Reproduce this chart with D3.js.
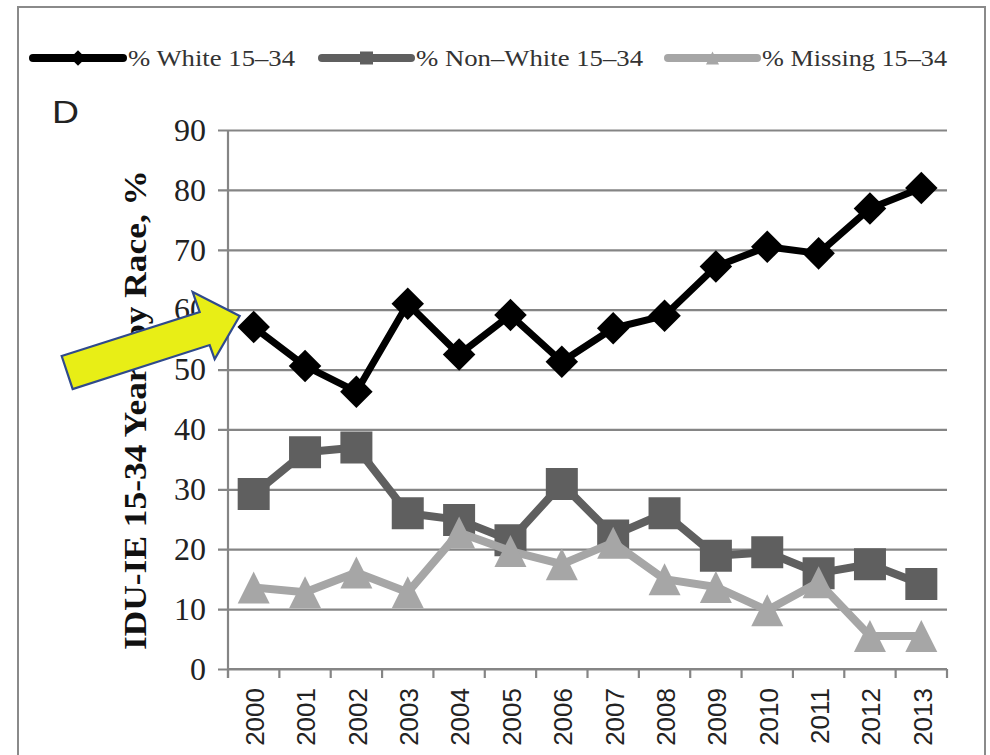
<!DOCTYPE html>
<html>
<head>
<meta charset="utf-8">
<script src="https://cdn.jsdelivr.net/npm/d3@7/dist/d3.min.js"></script>
<style>
  html, body { margin: 0; padding: 0; background: #fff; }
  svg { display: block; }
</style>
</head>
<body>
<svg id="chart" width="990" height="755"></svg>
<script>
// Years on the x axis
const years = ["2000","2001","2002","2003","2004","2005","2006","2007","2008","2009","2010","2011","2012","2013"];
// Share of IDU-IE aged 15-34 by race (%)
const whiteVals    = [57.1, 50.6, 46.3, 61.0, 52.5, 59.1, 51.3, 56.9, 59.0, 67.2, 70.5, 69.4, 76.9, 80.3];
const nonWhiteVals = [29.2, 36.2, 37.0, 26.0, 24.9, 21.5, 30.9, 22.3, 26.0, 18.9, 19.5, 16.0, 17.5, 14.2];
const missingVals  = [13.6, 12.8, 16.1, 12.8, 22.8, 19.7, 17.5, 21.1, 15.0, 13.7, 9.8, 14.5, 5.5, 5.5];
const yTicks = [0, 10, 20, 30, 40, 50, 60, 70, 80, 90];
const seriesNames = ["% White 15\u201334", "% Non\u2013White 15\u201334", "% Missing 15\u201334"];

const svg = d3.select("#chart");

// frame around the panel
svg.append("rect")
  .attr("x", 18).attr("y", 7).attr("width", 967).attr("height", 760)
  .attr("fill", "none").attr("stroke", "#8a8a8a").attr("stroke-width", 2);

const plotLeft = 228, plotRight = 947, plotTop = 130, plotBottom = 669;

const x = d3.scaleBand().domain(years).range([plotLeft, plotRight]).padding(0);
const y = d3.scaleLinear().domain([0, 90]).range([plotBottom, plotTop]);

const serif = "'Liberation Serif', 'Times New Roman', serif";
const sans = "'Liberation Sans', Arial, sans-serif";

// horizontal gridlines + y tick labels
const yAxis = svg.append("g")
  .attr("transform", `translate(${plotLeft - 10},0)`)
  .call(d3.axisLeft(y).tickValues(yTicks).tickSize(-(plotRight - plotLeft + 10)).tickPadding(12));
yAxis.select(".domain").remove();
yAxis.selectAll(".tick line").attr("stroke", "#858585").attr("stroke-width", 2.2);
yAxis.selectAll(".tick text")
  .attr("font-family", serif).attr("font-size", 32).attr("fill", "#222");

// vertical axis line
svg.append("line")
  .attr("x1", plotLeft).attr("x2", plotLeft).attr("y1", plotTop).attr("y2", plotBottom + 9)
  .attr("stroke", "#858585").attr("stroke-width", 2.2);

// x axis with ticks between categories
const xAxisG = svg.append("g");
xAxisG.append("line")
  .attr("x1", plotLeft).attr("x2", plotRight).attr("y1", plotBottom).attr("y2", plotBottom)
  .attr("stroke", "#858585").attr("stroke-width", 2.2);
const boundaries = years.map(d => x(d)).concat([x(years[years.length - 1]) + x.bandwidth()]);
xAxisG.selectAll("line.tk").data(boundaries).enter().append("line")
  .attr("class", "tk")
  .attr("x1", d => d).attr("x2", d => d)
  .attr("y1", plotBottom).attr("y2", plotBottom + 9)
  .attr("stroke", "#858585").attr("stroke-width", 2.2);
xAxisG.selectAll("text").data(years).enter().append("text")
  .attr("transform", d => `translate(${x(d) + x.bandwidth() / 2 + 1},688) rotate(-90)`)
  .attr("text-anchor", "end")
  .attr("dy", "0.36em")
  .attr("font-family", sans).attr("font-size", 26).attr("fill", "#222")
  .text(d => d);

// y axis title
svg.append("text")
  .attr("transform", "translate(146,410) rotate(-90)")
  .attr("text-anchor", "middle")
  .attr("font-family", serif).attr("font-weight", "bold").attr("font-size", 31)
  .attr("textLength", 480).attr("lengthAdjust", "spacingAndGlyphs")
  .attr("fill", "#111")
  .text("IDU-IE 15-34 Years by Race, %");

// panel letter
svg.append("text")
  .attr("x", 52).attr("y", 123)
  .attr("font-family", sans).attr("font-size", 31).attr("fill", "#222")
  .attr("textLength", 27).attr("lengthAdjust", "spacingAndGlyphs")
  .text("D");

const cx = d => x(d) + x.bandwidth() / 2;
const line = d3.line().x(d => cx(d.year)).y(d => y(d.v));

const series = [
  { name: seriesNames[0], vals: whiteVals, color: "#000000", width: 7, shape: "square", rot: 45, size: 23 },
  { name: seriesNames[1], vals: nonWhiteVals, color: "#5f5f5f", width: 8, shape: "square", rot: 0, size: 32 },
  { name: seriesNames[2], vals: missingVals, color: "#a6a6a6", width: 8, shape: "triangle", rot: 0, size: 32 }
];

function markerPath(s, side) {
  if (s.shape === "triangle") {
    const h = side;
    return `M0,${-h / 2}L${side / 2},${h / 2}L${-side / 2},${h / 2}Z`;
  }
  const a = side / 2;
  return `M${-a},${-a}H${a}V${a}H${-a}Z`;
}

series.forEach(s => {
  const data = years.map((yr, i) => ({ year: yr, v: s.vals[i] }));
  const g = svg.append("g");
  g.append("path").datum(data)
    .attr("d", line)
    .attr("fill", "none").attr("stroke", s.color).attr("stroke-width", s.width)
    .attr("stroke-linejoin", "round");
  g.selectAll("path.m").data(data).enter().append("path")
    .attr("class", "m")
    .attr("d", markerPath(s, s.size))
    .attr("transform", d => `translate(${cx(d.year)},${y(d.v)}) rotate(${s.rot})`)
    .attr("fill", s.color);
});

// legend
const legendItems = [
  { s: series[0], x1: 33, x2: 123, tx: 128, tl: 167, ms: 11 },
  { s: series[1], x1: 322, x2: 411, tx: 416, tl: 227, ms: 13 },
  { s: series[2], x1: 668, x2: 757, tx: 762, tl: 185, ms: 13 }
];
const ly = 58;
legendItems.forEach(it => {
  const g = svg.append("g");
  g.append("line")
    .attr("x1", it.x1).attr("x2", it.x2).attr("y1", ly).attr("y2", ly)
    .attr("stroke", it.s.color).attr("stroke-width", 8).attr("stroke-linecap", "round");
  g.append("path")
    .attr("d", markerPath(it.s, it.ms))
    .attr("transform", `translate(${(it.x1 + it.x2) / 2},${ly}) rotate(${it.s.rot})`)
    .attr("fill", it.s.color);
  g.append("text")
    .attr("x", it.tx).attr("y", ly + 8)
    .attr("font-family", serif).attr("font-size", 24).attr("fill", "#333")
    .attr("textLength", it.tl).attr("lengthAdjust", "spacingAndGlyphs")
    .text(it.s.name);
});

// callout arrow pointing at the 2000 value of the first series
const tipX = cx(years[0]) - 14, tipY = y(whiteVals[0]) - 11;
const arrowPts = [[-178, 40], [-40, -4], [-47, -24], [0, 0], [-25, 43], [-30, 29], [-167, 73]];
svg.append("path")
  .attr("d", "M" + arrowPts.map(p => `${tipX + p[0]},${tipY + p[1]}`).join("L") + "Z")
  .attr("fill", "#e8ee16").attr("stroke", "#2f4a8c").attr("stroke-width", 2.2)
  .attr("stroke-linejoin", "miter");
</script>
</body>
</html>
